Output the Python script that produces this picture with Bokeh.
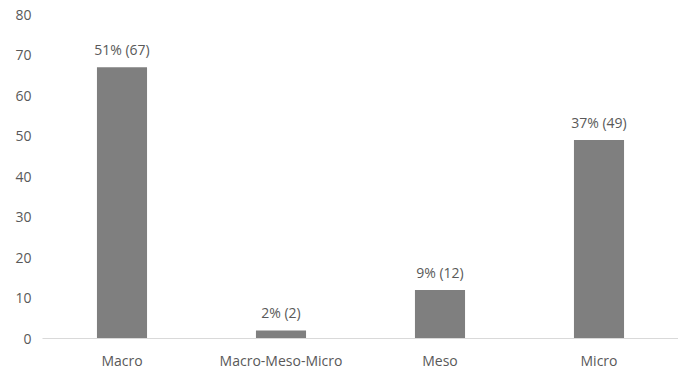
from bokeh.plotting import figure
from bokeh.models import ColumnDataSource, FactorRange, Range1d, FixedTicker, LabelSet
from bokeh.core.properties import value
from bokeh.embed import file_html
from bokeh.resources import INLINE

categories = ["Macro", "Macro-Meso-Micro", "Meso", "Micro"]
counts = [67, 2, 12, 49]
labels = ["51% (67)", "2% (2)", "9% (12)", "37% (49)"]
y_ticks = [0, 10, 20, 30, 40, 50, 60, 70, 80]

FONT = "Open Sans"
TXT = "#595959"
FS = "14px"

src = ColumnDataSource(data=dict(cat=categories, val=counts, lab=labels))

p = figure(width=678, height=372, x_range=FactorRange(*categories, range_padding=0),
           y_range=Range1d(0, 80), output_backend="svg", toolbar_location=None,
           min_border_left=42, min_border_right=0, min_border_top=14, min_border_bottom=32)
p.outline_line_color = None
p.background_fill_color = "white"
p.border_fill_color = "white"
p.xgrid.grid_line_color = None
p.ygrid.grid_line_color = None

p.vbar(x="cat", top="val", width=0.315, source=src, fill_color="#7f7f7f", line_color=None)

lbl = LabelSet(x="cat", y="val", text="lab", source=src, text_align="center",
               text_baseline="bottom", y_offset=8, text_font=value(FONT),
               text_font_size=value(FS), text_color=value(TXT))
p.add_layout(lbl)

p.yaxis.ticker = FixedTicker(ticks=y_ticks)
p.yaxis.axis_line_color = None
p.yaxis.major_tick_line_color = None
p.yaxis.minor_tick_line_color = None
p.yaxis.major_tick_out = 0
p.yaxis.minor_tick_out = 0
p.yaxis.major_label_text_font = FONT
p.yaxis.major_label_text_font_size = FS
p.yaxis.major_label_text_color = TXT
p.yaxis.major_label_standoff = 11

p.xaxis.axis_line_color = "#d9d9d9"
p.xaxis.axis_line_width = 1
p.xaxis.major_tick_line_color = None
p.xaxis.minor_tick_line_color = None
p.xaxis.major_tick_out = 0
p.xaxis.minor_tick_out = 0
p.xaxis.major_label_text_font = FONT
p.xaxis.major_label_text_font_size = FS
p.xaxis.major_label_text_color = TXT
p.xaxis.major_label_standoff = 12

open("out.html", "w").write(file_html(p, INLINE))
